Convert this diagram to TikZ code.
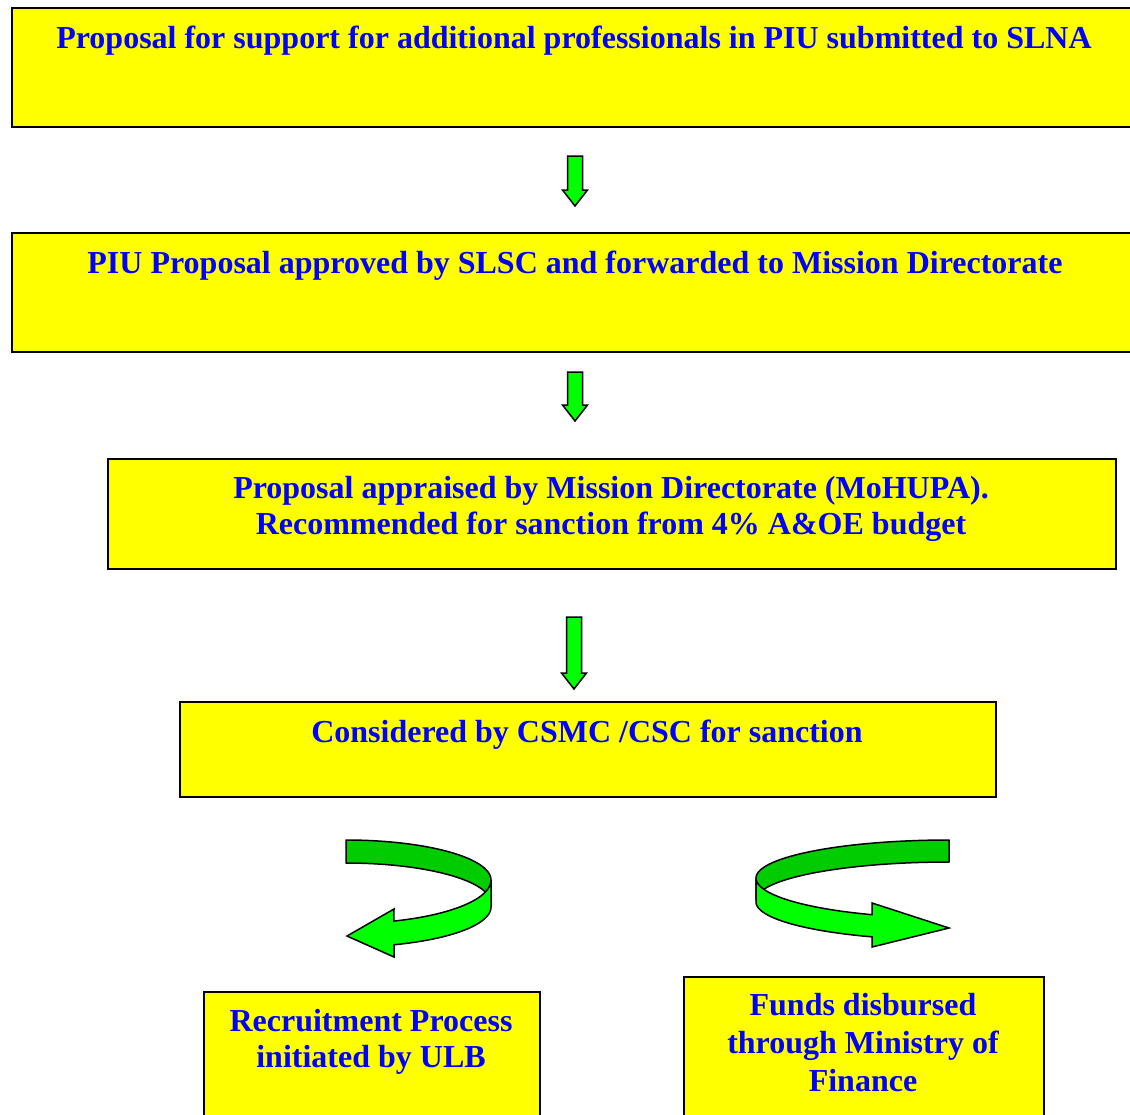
\documentclass[tikz,border=0pt]{standalone}
\usepackage{fontspec}
\setmainfont{Liberation Serif}
\definecolor{boxyellow}{RGB}{255,255,0}
\definecolor{txtblue}{RGB}{0,0,255}
\definecolor{lightg}{RGB}{0,255,0}
\definecolor{darkg}{RGB}{0,204,0}
\begin{document}
\begin{tikzpicture}[x=1pt,y=-1pt,
  box/.style={draw=black, line width=2pt, fill=boxyellow, rectangle, anchor=north west, inner sep=0pt},
  txt/.style={text=txtblue, font=\fontsize{32}{37}\selectfont\bfseries, inner sep=0pt, anchor=base},
  blockarrow/.style={draw=black, line width=1.5pt, fill=lightg, line join=miter},
  backband/.style={draw=black, line width=1.5pt, fill=darkg, line join=round},
  frontband/.style={draw=black, line width=1.5pt, fill=lightg, line join=miter},
  blockdown/.pic={\draw[blockarrow] (-7.5,0) -- (7.5,0) -- (7.5,#1-16) -- (12.5,#1-16) -- (0,#1) -- (-12.5,#1-16) -- (-7.5,#1-16) -- cycle;}]
\useasboundingbox (0,0) rectangle (1130,1114);

% boxes
\node[box, minimum width=1135pt, minimum height=119pt] (b1) at (11,7) {};
\node[box, minimum width=1135pt, minimum height=119pt] (b2) at (11,232) {};
\node[box, minimum width=1008pt, minimum height=110pt] (b3) at (107,458) {};
\node[box, minimum width=816pt, minimum height=95pt] (b4) at (179,701) {};
\node[box, minimum width=336pt, minimum height=150pt] (b5) at (203,991) {};
\node[box, minimum width=360pt, minimum height=160pt] (b6) at (683,976) {};

% texts
\node[txt] (t1) at (574,48) {Proposal for support for additional professionals in PIU submitted to SLNA};
\node[txt] (t2) at (575,273) {PIU Proposal approved by SLSC and forwarded to Mission Directorate};
\node[txt] (t3a) at (611,498) {Proposal appraised by Mission Directorate (MoHUPA).};
\node[txt] (t3b) at (611,534) {Recommended for sanction from 4\% A\&OE budget};
\node[txt] (t4) at (587,742) {Considered by CSMC /CSC for sanction};
\node[txt] (t5a) at (371,1031) {Recruitment Process};
\node[txt] (t5b) at (371,1067) {initiated by ULB};
\node[txt] (t6a) at (863,1015) {Funds disbursed};
\node[txt] (t6b) at (863,1053) {through Ministry of};
\node[txt] (t6c) at (863,1091) {Finance};

% straight block arrows between the boxes
\coordinate (a1) at (575,156);
\coordinate (a2) at (575,372);
\coordinate (a3) at (574,617);
\pic at (a1) {blockdown=50};
\pic at (a2) {blockdown=49};
\pic at (a3) {blockdown=72};

% left curved arrow (towards recruitment)
\draw[backband] plot[domain=90:0,samples=40] ({346+145*cos(\x)},{880-40*sin(\x)})
  -- (491,903) -- plot[domain=0:90,samples=40] ({346+145*cos(\x)},{903-40*sin(\x)}) -- cycle;
\draw[frontband] plot[domain=0:70.7,samples=40] ({346+145*cos(\x)},{880+43.5*sin(\x)})
  -- (394,909) -- (347,936) -- (394,957) -- (394,945)
  -- plot[domain=70.7:0,samples=40] ({346+145*cos(\x)},{907+40*sin(\x)}) -- cycle;

% right curved arrow (towards funds)
\draw[backband] plot[domain=90:180,samples=40] ({949+193*cos(\x)},{878-38*sin(\x)})
  -- (756,900) -- plot[domain=180:90,samples=40] ({949+193*cos(\x)},{900-38*sin(\x)}) -- cycle;
\draw[frontband] plot[domain=180:113.5,samples=40] ({949+193*cos(\x)},{878+40*sin(\x)})
  -- (872,903) -- (949,928) -- (872,947) -- (872,937)
  -- plot[domain=113.5:180,samples=40] ({949+193*cos(\x)},{902+38*sin(\x)}) -- cycle;
\end{tikzpicture}
\end{document}
